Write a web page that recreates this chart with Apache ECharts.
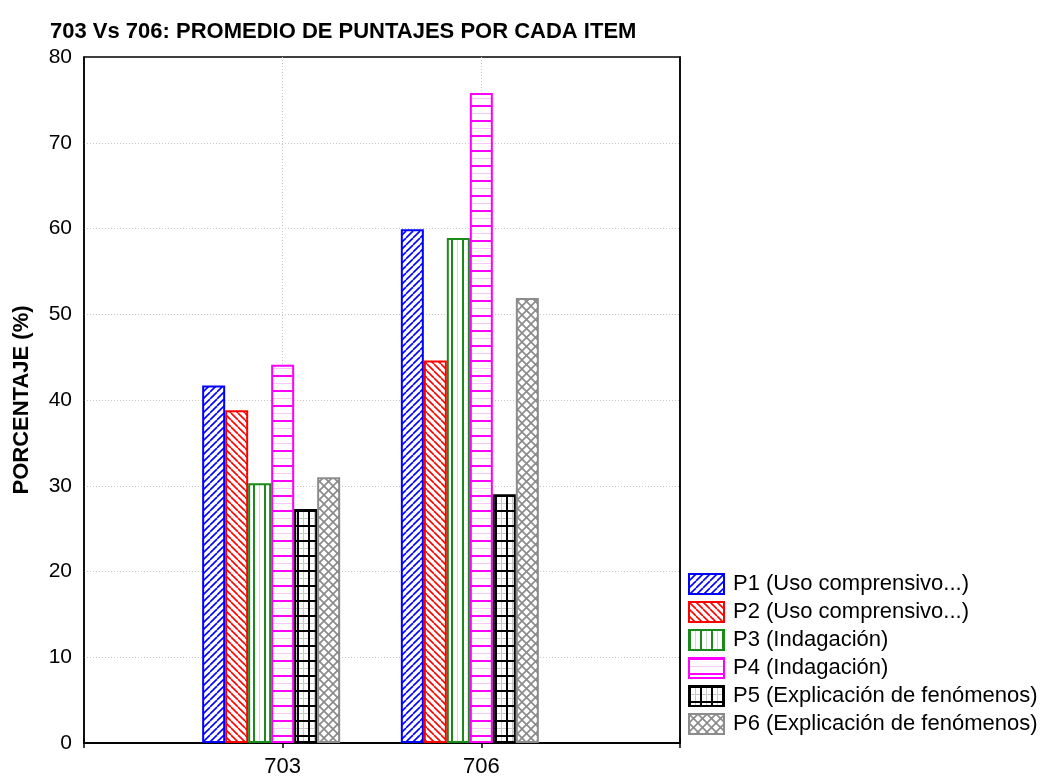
<!DOCTYPE html>
<html>
<head>
<meta charset="utf-8">
<script src="https://cdn.jsdelivr.net/npm/echarts@6/dist/echarts.min.js"></script>
<style>
html,body{margin:0;padding:0;background:#fff;}
#c{width:1044px;height:776px;}
</style>
</head>
<body>
<div id="c"></div>
<script>
// ---- data ----
const categories = ['703', '706'];
const seriesNames = [
  'P1 (Uso comprensivo...)',
  'P2 (Uso comprensivo...)',
  'P3 (Indagación)',
  'P4 (Indagación)',
  'P5 (Explicación de fenómenos)',
  'P6 (Explicación de fenómenos)'
];
const p1Values = [41.7, 59.9];
const p2Values = [38.8, 44.6];
const p3Values = [30.3, 58.9];
const p4Values = [44.1, 75.8];
const p5Values = [27.3, 29.0];
const p6Values = [31.0, 51.9];
const yTicks = [0, 10, 20, 30, 40, 50, 60, 70, 80];

// ---- patterns ----
function mk(w, h, draw) {
  const c = document.createElement('canvas');
  c.width = w; c.height = h;
  const ctx = c.getContext('2d');
  ctx.fillStyle = '#fff';
  ctx.fillRect(0, 0, w, h);
  draw(ctx, w, h);
  return { image: c, repeat: 'repeat' };
}
function diag(color, dir) {
  return mk(7, 7, (ctx, w, h) => {
    ctx.strokeStyle = color; ctx.lineWidth = 1.6;
    for (let k = -1; k <= 1; k++) {
      ctx.beginPath();
      if (dir > 0) { ctx.moveTo(k * w, h); ctx.lineTo(k * w + w, 0); }
      else { ctx.moveTo(k * w, 0); ctx.lineTo(k * w + w, h); }
      ctx.stroke();
    }
  });
}
const patP1 = diag('#0000ff', 1);
const patP2 = diag('#ff0000', -1);
const patP3 = mk(11, 4, (ctx, w, h) => {
  ctx.fillStyle = '#1a8a1a'; ctx.fillRect(0, 0, 2, h);
  ctx.fillStyle = '#c4e4c4'; ctx.fillRect(6, 0, 1, h);
});
const patP4 = mk(4, 15, (ctx, w, h) => {
  ctx.fillStyle = '#ff00ff'; ctx.fillRect(0, 0, w, 2);
  ctx.fillStyle = '#f8c8f8'; ctx.fillRect(0, 8, w, 1);
});
const patP5 = mk(11, 15, (ctx, w, h) => {
  ctx.fillStyle = '#c8c8c8'; ctx.fillRect(6, 0, 1, h); ctx.fillRect(0, 8, w, 1);
  ctx.fillStyle = '#000'; ctx.fillRect(0, 0, w, 2); ctx.fillRect(0, 0, 2, h);
});
const patP6 = mk(9, 9, (ctx, w, h) => {
  ctx.strokeStyle = '#8c8c8c'; ctx.lineWidth = 1.7;
  for (let k = -1; k <= 1; k++) {
    ctx.beginPath(); ctx.moveTo(k * w, h); ctx.lineTo(k * w + w, 0); ctx.stroke();
    ctx.beginPath(); ctx.moveTo(k * w, 0); ctx.lineTo(k * w + w, h); ctx.stroke();
  }
});

const styles = [
  { color: patP1, borderColor: '#0000ff' },
  { color: patP2, borderColor: '#ff0000' },
  { color: patP3, borderColor: '#1a8a1a' },
  { color: patP4, borderColor: '#ff00ff' },
  { color: patP5, borderColor: '#000000' },
  { color: patP6, borderColor: '#8c8c8c' }
];
const allValues = [p1Values, p2Values, p3Values, p4Values, p5Values, p6Values];

// axis categories padded with empty slots at both ends
const axisCats = [''].concat(categories, ['']);
const pad = arr => [null].concat(arr, [null]);

const series = allValues.map((vals, i) => ({
  name: seriesNames[i],
  type: 'bar',
  data: pad(vals),
  barWidth: 23,
  barGap: '0%',
  itemStyle: { color: styles[i].color, borderColor: styles[i].borderColor, borderWidth: 2 },
  emphasis: { disabled: true },
  animation: false
}));
// spacer slot (Statistica layout offset)
series.push({ name: '_spacer', type: 'bar', data: pad([null, null]), barWidth: 23, barGap: '0%', animation: false });

const font = 'Arial, "Liberation Sans", sans-serif';
const chart = echarts.init(document.getElementById('c'), null, { renderer: 'canvas' });
chart.setOption({
  backgroundColor: '#fff',
  animation: false,
  title: {
    text: '703 Vs 706: PROMEDIO DE PUNTAJES POR CADA ITEM',
    left: 45, top: 16,
    textStyle: { fontFamily: font, fontWeight: 'bold', fontSize: 22, color: '#000' }
  },
  grid: { left: 84, right: 364, top: 57, bottom: 33, show: true, borderColor: '#000', borderWidth: 1.5, containLabel: false, outerBoundsMode: 'none' },
  legend: {
    data: seriesNames,
    orient: 'vertical',
    icon: 'rect',
    left: 688, top: 573,
    padding: 0,
    itemWidth: 35, itemHeight: 20, itemGap: 6,
    textStyle: { fontFamily: font, fontSize: 22, lineHeight: 20, color: '#000', padding: [0, 0, 0, 4] },
    selectedMode: false
  },
  xAxis: [{
    type: 'category',
    data: axisCats,
    boundaryGap: false,
    axisLine: { lineStyle: { color: '#000', width: 1.5 } },
    axisTick: { inside: true, length: 5, interval: 0, lineStyle: { color: '#000', width: 1.5 } },
    axisLabel: { interval: 0, margin: 13, fontFamily: font, fontSize: 22, color: '#000' },
    splitLine: { show: true, interval: 0, showMinLine: false, showMaxLine: false, lineStyle: { color: '#c8c8c8', type: [1, 2], width: 1 } }
  }, {
    type: 'category',
    position: 'top',
    data: axisCats,
    boundaryGap: false,
    axisLine: { lineStyle: { color: '#000', width: 1.5 } },
    axisTick: { inside: true, length: 5, interval: 0, lineStyle: { color: '#000', width: 1.5 } },
    axisLabel: { show: false },
    splitLine: { show: false }
  }],
  yAxis: [{
    type: 'value',
    min: yTicks[0], max: yTicks[yTicks.length - 1], interval: 10,
    name: 'PORCENTAJE (%)',
    nameLocation: 'middle',
    nameGap: 51,
    nameRotate: 90,
    nameTextStyle: { fontFamily: font, fontWeight: 'bold', fontSize: 22, color: '#000' },
    axisLine: { show: true, lineStyle: { color: '#000', width: 1.5 } },
    axisTick: { show: false },
    axisLabel: { margin: 12, fontFamily: font, fontSize: 21, color: '#000' },
    splitLine: { show: true, showMinLine: false, showMaxLine: false, lineStyle: { color: '#c8c8c8', type: [1, 2], width: 1 } }
  }, {
    type: 'value',
    position: 'right',
    min: yTicks[0], max: yTicks[yTicks.length - 1], interval: 10,
    axisLine: { show: true, lineStyle: { color: '#000', width: 1.5 } },
    axisTick: { show: false },
    axisLabel: { show: false },
    splitLine: { show: false }
  }],
  series: series
});
</script>
</body>
</html>
